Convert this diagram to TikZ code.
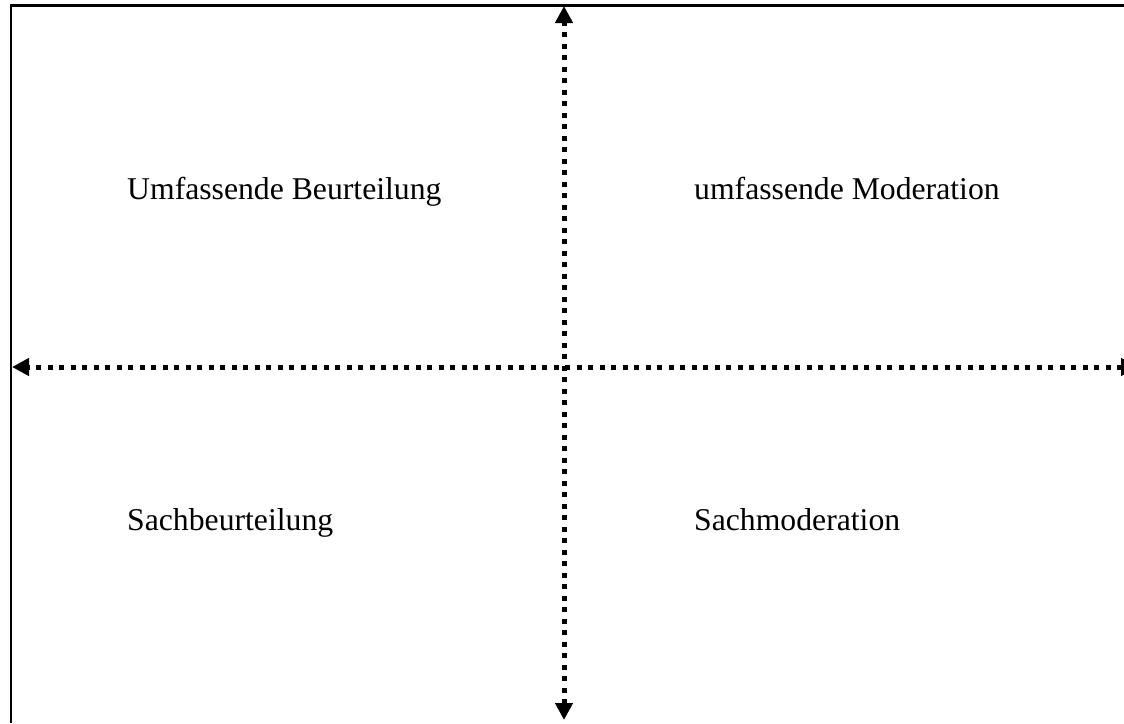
\documentclass[tikz,border=0pt]{standalone}
\usepackage{fontspec}
\setmainfont{Liberation Serif}
\usetikzlibrary{arrows.meta}
\begin{document}
\begin{tikzpicture}[x=1pt,y=-1pt,
  frame/.style={line width=2.5pt},
  axis/.style={line width=5pt, dash pattern=on 5pt off 6.5pt,
    {Triangle[length=17pt,width=17pt]}-{Triangle[length=17pt,width=17pt]}},
  lbl/.style={anchor=base west, inner sep=0pt, font=\fontsize{31.7}{38}\selectfont}]
\useasboundingbox (0,0) rectangle (1124,723);
\coordinate (tl) at (11,5.5);
\coordinate (tr) at (1124,5.5);
\coordinate (bl) at (11,723);
\draw[frame] (bl) -- (tl) -- (tr);
\coordinate (vt) at (564,6);
\coordinate (vb) at (564,720);
\coordinate (hl) at (12,367);
\coordinate (hr) at (1138,367);
\draw[axis] (vb) -- (vt);
\draw[axis] (hr) -- (hl);
\node[lbl] (ub) at (127,199) {Umfassende Beurteilung};
\node[lbl] (um) at (694,199) {umfassende Moderation};
\node[lbl] (sb) at (127,530) {Sachbeurteilung};
\node[lbl] (sm) at (694,530) {Sachmoderation};
\end{tikzpicture}
\end{document}
